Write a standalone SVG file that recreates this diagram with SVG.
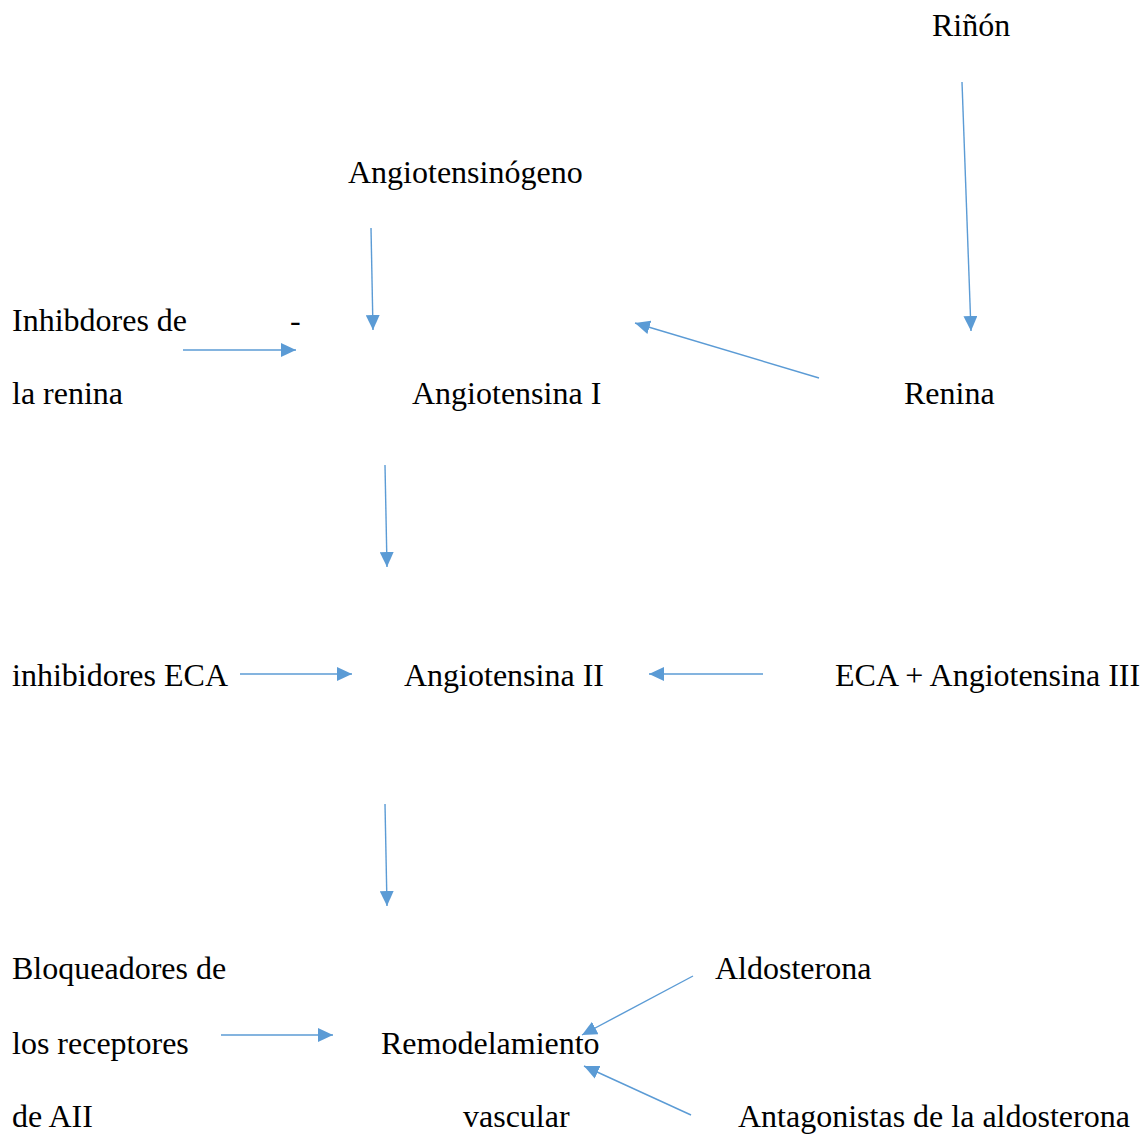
<svg xmlns="http://www.w3.org/2000/svg" width="1148" height="1136" viewBox="0 0 1148 1136">
<style>
text{font-family:"Liberation Serif","Times New Roman",serif;font-size:32px;fill:#000}
.c line{stroke:#5B9BD5;stroke-width:1.4;marker-end:url(#ah)}
</style>
<defs>
<marker id="ah" markerUnits="userSpaceOnUse" markerWidth="16" markerHeight="14" refX="15" refY="7" orient="auto" viewBox="0 0 16 14">
<path d="M0,0 L15,7 L0,14 Z" fill="#5B9BD5"/>
</marker>
</defs>
<rect width="1148" height="1136" fill="#fff"/>
<g id="rinon"><text x="932" y="36">Riñón</text></g>
<g id="angiotensinogeno"><text x="348" y="183">Angiotensinógeno</text></g>
<g id="inhibidores-renina"><text x="12" y="331">Inhibdores de</text><text x="290" y="331">-</text><text x="12" y="404">la renina</text></g>
<g id="angiotensina-i"><text x="412" y="404">Angiotensina I</text></g>
<g id="renina"><text x="904" y="404">Renina</text></g>
<g id="inhibidores-eca"><text x="12" y="686">inhibidores ECA</text></g>
<g id="angiotensina-ii"><text x="404" y="686">Angiotensina II</text></g>
<g id="eca"><text x="835" y="686">ECA + Angiotensina III</text></g>
<g id="bloqueadores"><text x="12" y="979">Bloqueadores de</text><text x="12" y="1054">los receptores</text><text x="12" y="1127">de AII</text></g>
<g id="remodelamiento"><text x="381" y="1054">Remodelamiento</text><text x="463" y="1127">vascular</text></g>
<g id="aldosterona"><text x="715" y="979">Aldosterona</text></g>
<g id="antagonistas"><text x="738" y="1127">Antagonistas de la aldosterona</text></g>
<g class="c" id="connectors">
<line x1="962" y1="82" x2="971" y2="331"/>
<line x1="371" y1="228" x2="373" y2="330"/>
<line x1="183" y1="350" x2="296" y2="350"/>
<line x1="819" y1="378" x2="635" y2="323"/>
<line x1="385" y1="465" x2="387" y2="567"/>
<line x1="240" y1="674" x2="352" y2="674"/>
<line x1="763" y1="674" x2="649" y2="674"/>
<line x1="385" y1="804" x2="387" y2="906"/>
<line x1="221" y1="1035" x2="333" y2="1035"/>
<line x1="693" y1="976" x2="582" y2="1035"/>
<line x1="691" y1="1115" x2="584" y2="1066"/>
</g>
</svg>
